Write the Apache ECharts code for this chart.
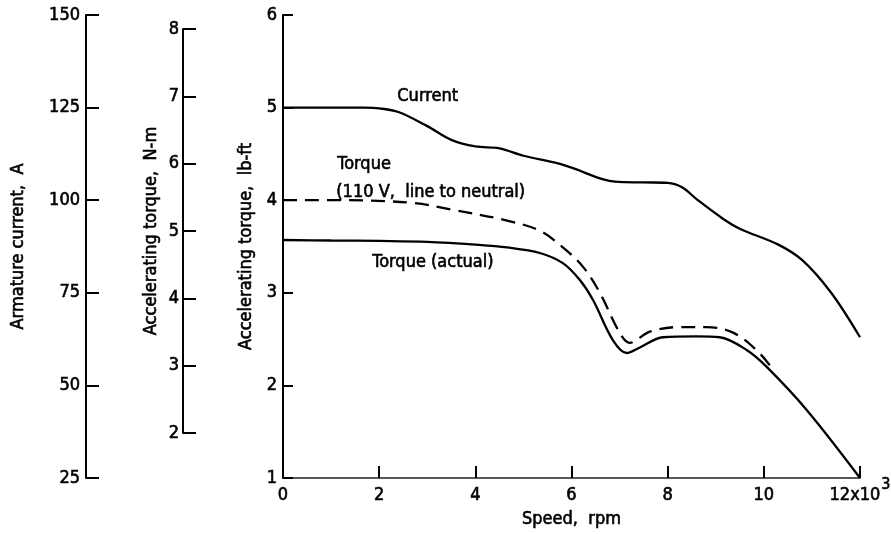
<!DOCTYPE html>
<html>
<head>
<meta charset="utf-8">
<script src="https://cdn.jsdelivr.net/npm/echarts@6/dist/echarts.min.js"></script>
<style>
  html, body { margin: 0; padding: 0; background: #fff; }
  #chart { width: 891px; height: 534px; }
</style>
</head>
<body>
<div id="chart"></div>
<script>
// Speed in thousands of rpm
const currentSpeed = [0, 1, 1.7, 2, 2.4, 3, 3.5, 4, 4.5, 5, 5.7, 6, 6.9, 7.5, 8, 8.3, 8.6, 9.15, 9.5, 10.3, 10.8, 11.4, 12];
// Armature current, A
const currentAmps = [125, 125, 125, 124.8, 123.8, 120, 116.3, 114.5, 114, 112, 110, 108.8, 105, 104.8, 104.7, 103.5, 100.3, 95, 92.3, 88, 83.8, 75, 63];

// Torque at 110 V line to neutral, lb-ft
const nominalSpeed = [0, 1.3, 2.7, 3.5, 4.66, 5.34, 5.82, 6.24, 6.59, 7.0, 7.21, 7.63, 8.25, 8.8, 9.36, 9.85, 10.15];
const nominalTorque = [4.0, 4.0, 3.97, 3.9, 3.78, 3.67, 3.49, 3.28, 3.0, 2.57, 2.46, 2.58, 2.63, 2.63, 2.57, 2.38, 2.2];

// Measured torque, lb-ft
const actualSpeed = [0, 1, 2, 3, 4, 4.66, 5.34, 5.82, 6.17, 6.45, 6.86, 7.15, 7.42, 7.9, 8.6, 9.08, 9.65, 10.06, 10.9, 12];
const actualTorque = [3.57, 3.565, 3.56, 3.55, 3.52, 3.49, 3.43, 3.32, 3.14, 2.92, 2.49, 2.35, 2.41, 2.52, 2.53, 2.52, 2.38, 2.2, 1.73, 1.0];

// Axis ranges and tick spacing
const speedTicks = { min: 0, max: 12, interval: 2 };
const lbftTicks = { min: 1, max: 6, interval: 1 };
const ampTicks = { min: 25, max: 150, interval: 25 };
const nmTicks = { min: 2, max: 8, interval: 1 };

const zip = (xs, ys) => xs.map((x, i) => [x, ys[i]]);

const numFont = '"DejaVu Sans Condensed", sans-serif';
const textFont = '"DejaVu Sans Condensed", "Liberation Sans", sans-serif';
const ink = '#000';
// a thin outline in the text colour gives the lettering a heavier stroke
const heavy = { textBorderColor: ink, textBorderWidth: 0.6 };

const axisLine = { show: true, onZero: false, lineStyle: { color: ink, width: 2 } };
const tickLabel = (margin) => ({ color: ink, fontFamily: numFont, fontSize: 18, margin, ...heavy });
const titleStyle = { color: ink, fontFamily: textFont, fontSize: 18, ...heavy };

const chart = echarts.init(document.getElementById('chart'), null, { renderer: 'canvas' });

chart.setOption({
  backgroundColor: '#fff',
  animation: false,
  grid: [
    { left: 283, top: 15, width: 577, height: 463, containLabel: false, outerBoundsMode: 'none' },
    { left: 183, top: 29, width: 20, height: 404, containLabel: false, outerBoundsMode: 'none' }
  ],
  xAxis: [
    {
      gridIndex: 0, type: 'value', ...speedTicks,
      name: 'Speed,  rpm', nameLocation: 'middle', nameGap: 32,
      nameTextStyle: titleStyle,
      axisLine: { show: true, onZero: false, lineStyle: { color: '#222', width: 1.5 } },
      axisTick: { show: true, inside: true, length: 12, lineStyle: { color: ink, width: 2 } },
      splitLine: { show: false },
      axisLabel: {
        ...tickLabel(8),
        formatter: v => v === 12 ? '{a|12x10}{s|3}' : String(v),
        rich: {
          a: { fontFamily: numFont, fontSize: 18, color: ink, ...heavy },
          s: { fontFamily: numFont, fontSize: 16, color: ink, verticalAlign: 'top', padding: [-9, 0, 0, 1], ...heavy }
        }
      }
    },
    { gridIndex: 1, type: 'value', min: 0, max: 1, show: false }
  ],
  yAxis: [
    {
      gridIndex: 0, type: 'value', ...lbftTicks,
      name: 'Accelerating torque,  lb-ft', nameLocation: 'middle', nameGap: 27,
      nameTextStyle: titleStyle,
      axisLine,
      axisTick: { show: true, inside: true, length: 10, lineStyle: { color: ink, width: 2 } },
      splitLine: { show: false },
      axisLabel: tickLabel(6)
    },
    {
      gridIndex: 0, type: 'value', position: 'left', offset: 197, ...ampTicks,
      name: 'Armature current,  A', nameLocation: 'middle', nameGap: 59,
      nameTextStyle: titleStyle,
      axisLine,
      axisTick: { show: true, inside: true, length: 13, lineStyle: { color: ink, width: 2 } },
      splitLine: { show: false },
      axisLabel: tickLabel(6)
    },
    {
      gridIndex: 1, type: 'value', position: 'left', ...nmTicks,
      name: 'Accelerating torque,  N-m', nameLocation: 'middle', nameGap: 23,
      nameTextStyle: titleStyle,
      axisLine,
      axisTick: { show: true, inside: true, length: 13, lineStyle: { color: ink, width: 2 } },
      splitLine: { show: false },
      axisLabel: tickLabel(4)
    }
  ],
  series: [
    {
      name: 'Current', type: 'line', xAxisIndex: 0, yAxisIndex: 1,
      data: zip(currentSpeed, currentAmps),
      smooth: 0.35, symbol: 'none',
      lineStyle: { color: ink, width: 2.3 }
    },
    {
      name: 'Torque (110 V, line to neutral)', type: 'line', xAxisIndex: 0, yAxisIndex: 0,
      data: zip(nominalSpeed, nominalTorque),
      smooth: 0.35, symbol: 'none',
      lineStyle: { color: ink, width: 2.3, type: [14, 8] }
    },
    {
      name: 'Torque (actual)', type: 'line', xAxisIndex: 0, yAxisIndex: 0,
      data: zip(actualSpeed, actualTorque),
      smooth: 0.35, symbol: 'none',
      lineStyle: { color: ink, width: 2.3 }
    }
  ],
  graphic: [
    { type: 'text', left: 397, top: 87, style: { text: 'Current', font: '18px ' + textFont, fill: ink, stroke: ink, lineWidth: 0.6 } },
    { type: 'text', left: 337, top: 155, style: { text: 'Torque', font: '18px ' + textFont, fill: ink, stroke: ink, lineWidth: 0.6 } },
    { type: 'text', left: 336, top: 183, style: { text: '(110 V,  line to neutral)', font: '18px ' + textFont, fill: ink, stroke: ink, lineWidth: 0.6 } },
    { type: 'text', left: 372, top: 253, style: { text: 'Torque (actual)', font: '18px ' + textFont, fill: ink, stroke: ink, lineWidth: 0.6 } }
  ]
});
</script>
</body>
</html>
